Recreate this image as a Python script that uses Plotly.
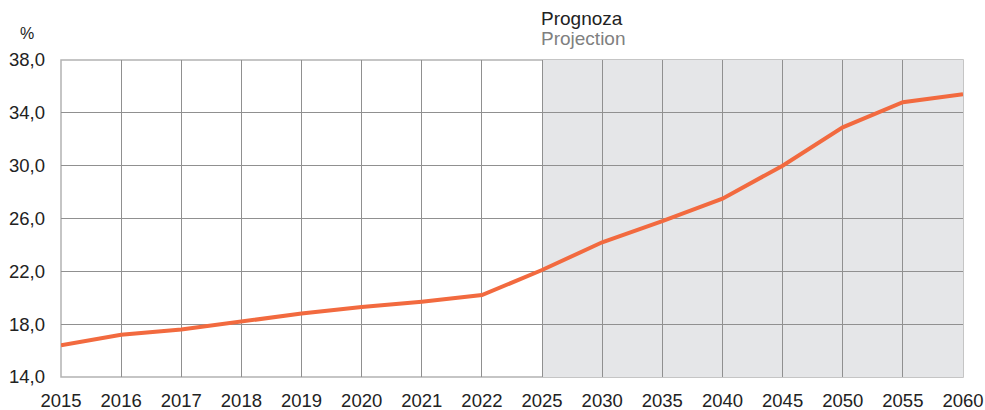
import plotly.graph_objects as go

years = ["2015", "2016", "2017", "2018", "2019", "2020", "2021", "2022",
         "2025", "2030", "2035", "2040", "2045", "2050", "2055", "2060"]
share = [16.4, 17.2, 17.6, 18.2, 18.8, 19.3, 19.7, 20.2,
         22.1, 24.2, 25.8, 27.5, 30.0, 32.9, 34.8, 35.4]
proj_start = "2025"
y_ticks = [14, 18, 22, 26, 30, 34, 38]

FONT = "Liberation Sans, Arial, sans-serif"
i0 = years.index(proj_start)

fig = go.Figure()
fig.add_trace(go.Scatter(x=years, y=share, mode="lines",
                         line=dict(color="#f26a3f", width=4), showlegend=False))

# projection shading
fig.add_shape(type="rect", xref="x", yref="y",
              x0=i0, x1=len(years) - 1, y0=14, y1=38,
              fillcolor="#e5e6e8", line_width=0, layer="below")
# frame
fig.add_shape(type="rect", xref="paper", yref="paper", x0=0, x1=1, y0=0, y1=1,
              line=dict(color="#b3b3b3", width=1.5), layer="below")

fig.add_annotation(x=0, y=1, xref="paper", yref="paper", text="%",
                   showarrow=False, xanchor="center", yanchor="middle",
                   xshift=-34, yshift=27, font=dict(size=16, color="#222"))
fig.add_annotation(x=i0, y=1, xref="x", yref="paper", text="Prognoza",
                   showarrow=False, xanchor="left", yanchor="middle",
                   xshift=-3, yshift=42, font=dict(size=19, color="#222"))
fig.add_annotation(x=i0, y=1, xref="x", yref="paper", text="Projection",
                   showarrow=False, xanchor="left", yanchor="middle",
                   xshift=-3, yshift=22, font=dict(size=19, color="#808080"))

fig.update_xaxes(type="category", range=[0, len(years) - 1],
                 showgrid=True, gridcolor="#909090", gridwidth=1,
                 zeroline=False, showline=False, ticklabelstandoff=10,
                 ticklabeloverflow="allow",
                 tickfont=dict(size=18.5, color="#222"), ticks="")
fig.update_yaxes(range=[14, 38], tickvals=y_ticks, tickformat=".1f",
                 showgrid=True, gridcolor="#909090", gridwidth=1,
                 zeroline=False, showline=False, ticklabelstandoff=15,
                 tickfont=dict(size=18.5, color="#222"))

fig.update_layout(width=985, height=410, separators=", ",
                  margin=dict(l=61, r=22, t=60, b=33, autoexpand=False),
                  plot_bgcolor="white", paper_bgcolor="white",
                  font=dict(family=FONT))

# drop the default page margin so the figure fills the window
fig.write_html("out.html", config={"displayModeBar": False},
               post_script="document.body.style.margin='0';"
                           "document.body.style.overflow='hidden';")
